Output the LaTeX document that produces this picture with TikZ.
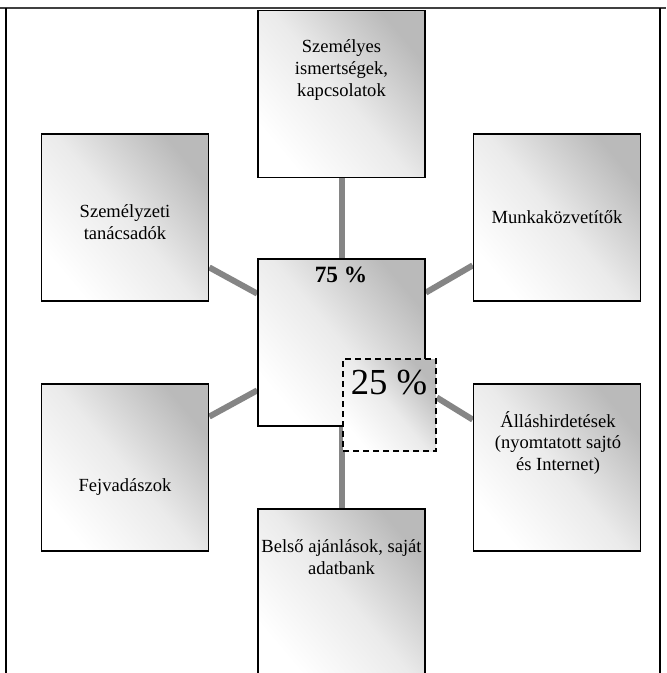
\documentclass[tikz,border=0pt]{standalone}
\usepackage{fontspec}
\setmainfont{Liberation Serif}
\usetikzlibrary{calc,backgrounds}
\begin{document}
\begin{tikzpicture}[x=0.75pt,y=-0.75pt,
  box/.style={draw=black,line width=1.2pt,rectangle,inner sep=0pt,
    minimum width=125.25pt,minimum height=125.25pt,
    top color=black!27,bottom color=white,middle color=black!8,shading angle=-50},
  dbox/.style={box,dashed,dash pattern=on 4.5pt off 3pt,minimum width=69.75pt,minimum height=69pt},
  txt/.style={align=center,inner sep=0pt,font=\fontsize{13.9}{16.3}\selectfont},
  conn/.style={draw=black!48,line width=4.5pt},
  frame/.style={line width=1.4pt}]
\clip (0,0) rectangle (666,673);
% frame
\coordinate (f1) at (0,8);
\coordinate (f2) at (666,8);
\coordinate (f3) at (6,8);
\coordinate (f4) at (6,673);
\coordinate (f5) at (660,8);
\coordinate (f6) at (660,673);
\draw[frame,draw=black!75] (f1) -- (f2);
\draw[frame] (f3) -- (f4);
\draw[frame] (f5) -- (f6);
% boxes
\node[box] (top) at (341.5,94) {};
\node[box] (ul) at (125,217.5) {};
\node[box] (ur) at (557,217.5) {};
\node[box] (c) at (341.5,342.5) {};
\node[box] (ll) at (125,467.5) {};
\node[box] (lr) at (557,467.5) {};
\node[box] (bot) at (341.5,592.5) {};
\node[dbox] (p25) at (389.5,405) {};
% texts
\node[txt] (ttop) at (341.5,70) {Személyes\\ismertségek,\\kapcsolatok};
\node[txt] (tul) at (125,222) {Személyzeti\\tanácsadók};
\node[txt] (tur) at (557,217) {Munkaközvetítők};
\node[txt] (tll) at (125,487) {Fejvadászok};
\node[txt] (tlr) at (558,443) {Álláshirdetések\\(nyomtatott sajtó\\és Internet)};
\node[txt] (tbot) at (341.5,557) {Belső ajánlások, saját\\adatbank};
\node[inner sep=0pt,font=\fontsize{17.5}{20}\selectfont\bfseries] (t75) at (341,275) {75 \%};
\node[inner sep=0pt,font=\fontsize{27.5}{30}\selectfont] (t25) at (389,383) {25 \%};
% connectors
\begin{scope}[on background layer]
\draw[conn] (top.south) -- (c.north);
\draw[conn] ($(ul.north east)!0.796!(ul.south east)$) -- ($(c.north west)!0.21!(c.south west)$);
\draw[conn] ($(c.north east)!0.204!(c.south east)$) -- ($(ur.north west)!0.784!(ur.south west)$);
\draw[conn] ($(ll.north east)!0.198!(ll.south east)$) -- ($(c.north west)!0.784!(c.south west)$);
\draw[conn] ($(p25.north east)!0.42!(p25.south east)$) -- ($(lr.north west)!0.216!(lr.south west)$);
\draw[conn] (c.south) -- (bot.north);
\end{scope}
\end{tikzpicture}
\end{document}
